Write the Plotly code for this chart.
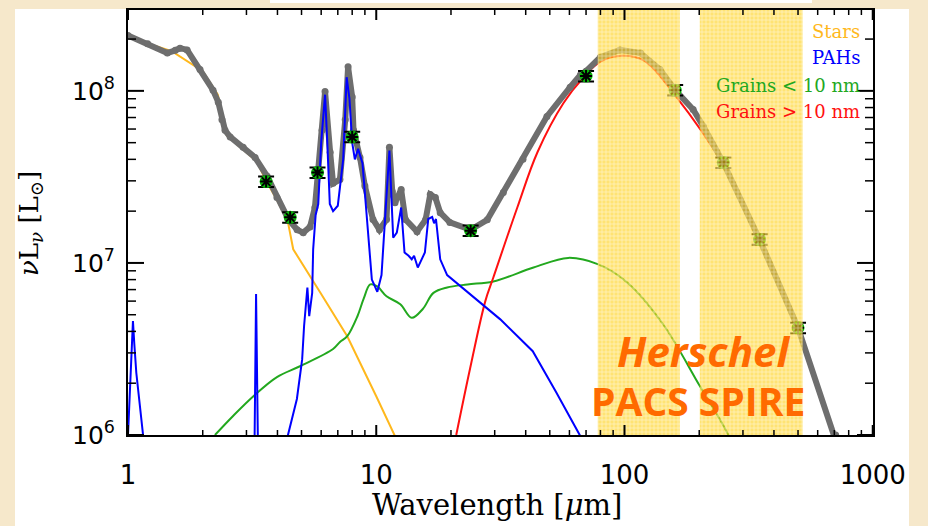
import plotly.graph_objects as go

# ---------------- data ----------------
total_wl = [1.0, 1.2, 1.44, 1.55, 1.62, 1.73, 1.95, 2.2, 2.31, 2.39, 2.46, 2.58, 2.91, 3.25, 3.63,
            3.98, 4.42, 4.8, 5.08, 5.41, 5.66, 5.84, 6.05, 6.22, 6.52, 6.7, 7.14, 7.5, 7.7, 8.0,
            8.1, 8.6, 9.0, 9.7, 10.3, 11.0, 11.3, 11.6, 11.9, 12.6, 13.1, 14.6, 15.8, 16.5, 17.3,
            18.1, 19.8, 24.0, 28.0, 32.5, 39.0, 48.7, 60.4, 66.5, 70.0, 80.0, 96.0, 116.0, 139.0,
            160.0, 189.0, 208.0, 250.0, 350.0, 500.0, 709.0, 800.0]
total_lum = [2.1e8, 1.88e8, 1.66e8, 1.72e8, 1.77e8, 1.73e8, 1.33e8, 1.01e8, 8.6e7, 6.8e7, 5.9e7, 5.4e7,
             4.7e7, 4.1e7, 3.2e7, 2.4e7, 1.8e7, 1.56e7, 1.5e7, 1.62e7, 2.1e7, 3.5e7, 5.9e7, 9.9e7,
             4.4e7, 2.9e7, 3.05e7, 6.8e7, 1.38e8, 9.2e7, 5.9e7, 4.1e7, 2.8e7, 1.79e7, 1.56e7, 1.79e7,
             4.7e7, 2.6e7, 2.24e7, 2.67e7, 1.79e7, 1.52e7, 1.78e7, 2.5e7, 2.4e7, 1.96e7, 1.72e7,
             1.56e7, 1.78e7, 2.57e7, 4.0e7, 7.1e7, 1.05e8, 1.24e8, 1.3e8, 1.57e8, 1.73e8, 1.66e8,
             1.33e8, 1.01e8, 7.8e7, 6.2e7, 3.83e7, 1.37e7, 4.2e6, 1.0e6, 5.5e5]

stars_wl = [1.0, 1.5, 2.0, 2.3, 2.5, 3.3, 3.6, 4.0, 4.4, 4.63, 6.0, 7.64, 10.0, 11.9, 13.0]
stars_lum = [2.05e8, 1.7e8, 1.3e8, 9.5e7, 5.5e7, 3.9e7, 3.0e7, 2.3e7, 1.75e7, 1.2e7, 6.6e6, 3.75e6,
             1.68e6, 1.0e6, 7.5e5]

pah_wl = [1.0, 1.035, 1.047, 1.06, 1.08, 1.15, 1.2, 3.2, 3.28, 3.38, 4.3, 4.41, 4.79, 5.03, 5.12,
          5.28, 5.37, 5.52, 5.57, 5.7, 5.84, 6.0, 6.22, 6.35, 6.5, 6.7, 7.0, 7.36, 7.6, 7.8, 8.0,
          8.2, 8.45, 8.8, 9.2, 9.6, 10.1, 10.5, 10.9, 11.3, 11.7, 12.1, 12.6, 13.0, 13.5, 13.9,
          14.2, 14.7, 15.7, 16.2, 16.8, 17.1, 17.4, 18.1, 19.3, 31.6, 42.7, 53.0, 66.0, 75.0]
pah_lum = [1.0e6, 3.6e6, 4.6e6, 3.4e6, 2.3e6, 1.0e6, 4e5, 2e5, 6.6e6, 2e5, 2e5, 1.0e6, 1.62e6,
           2.75e6, 4.3e6, 7.2e6, 4.9e6, 6.7e6, 1.2e7, 1.9e7, 2.2e7, 5e7, 9.5e7, 5e7, 2.2e7, 2.0e7,
           2.15e7, 4e7, 1.2e8, 9e7, 5e7, 4e7, 4.6e7, 3.8e7, 1.8e7, 8e6, 6.8e6, 8.5e6, 2e7, 4.5e7,
           1.4e7, 1.5e7, 2.1e7, 1.15e7, 1.1e7, 1.05e7, 1.1e7, 9.4e6, 1.15e7, 1.8e7, 1.85e7, 1.7e7,
           1.8e7, 1.05e7, 8.5e6, 4.7e6, 3.07e6, 1.78e6, 1.0e6, 6e5]

small_wl = [2.24, 2.65, 3.2, 3.98, 4.93, 6.7, 7.14, 7.64, 8.4, 8.9, 9.46, 10.1, 11.0, 12.5, 13.9,
            15.4, 17.0, 19.3, 23.3, 29.6, 43.0, 59.3, 78.5, 102.5, 143.0, 200.0, 262.0, 300.0]
small_lum = [1.0e6, 1.29e6, 1.68e6, 2.17e6, 2.51e6, 3.16e6, 3.47e6, 3.75e6, 4.9e6, 6.2e6, 7.5e6,
             7.3e6, 6.4e6, 5.75e6, 4.8e6, 5.4e6, 6.7e6, 7.2e6, 7.5e6, 7.8e6, 9.4e6, 1.07e7, 9.8e6,
             7.7e6, 4.4e6, 1.95e6, 1.0e6, 6e5]

big_wl = [21.0, 23.9, 27.5, 29.6, 37.0, 44.6, 56.8, 68.4, 80.0, 98.0, 120.0, 160.0, 250.0, 350.0,
          500.0, 700.0, 800.0]
big_lum = [1.0e6, 2.45e6, 6.0e6, 8.2e6, 2.1e7, 4.4e7, 8.5e7, 1.2e8, 1.48e8, 1.6e8, 1.5e8, 9.4e7,
           3.7e7, 1.35e7, 4.1e6, 1.0e6, 5e5]

phot_wl = [3.6, 4.5, 5.8, 8.0, 24.0, 70.0, 160.0, 250.0, 350.0, 500.0]
phot_lum = [2.97e7, 1.84e7, 3.35e7, 5.4e7, 1.54e7, 1.22e8, 1.01e8, 3.83e7, 1.37e7, 4.2e6]
phot_err = [0.07 * v for v in phot_lum]

band_names = ["PACS", "SPIRE"]
band_lo = [78.0, 201.0]
band_hi = [167.0, 522.0]

legend_labels = ["Stars", "PAHs", "Grains &lt; 10 nm", "Grains &gt; 10 nm"]
legend_colors = ["#FFB81C", "#0000FF", "#22A81E", "#FF1010"]

x_tick_vals = [1, 10, 100, 1000]
x_tick_text = ["1", "10", "100", "1000"]
y_tick_vals = [1e6, 1e7, 1e8]
y_tick_text = ["10<sup>6</sup>", "10<sup>7</sup>", "10<sup>8</sup>"]

# ---------------- figure ----------------
W, H = 928, 526
L, R, T, B = 128, 55, 10, 91
pw, ph = W - L - R, H - T - B
XR = [0, 3.001]
YR = [6, 8.47]
x_px_per_dec = pw / (XR[1] - XR[0])
y_px_per_dec = ph / (YR[1] - YR[0])


def px(xp):
    return (xp - L) / pw


def py(yp):
    return (H - B - yp) / ph


fig = go.Figure()

fig.add_trace(go.Scatter(x=stars_wl, y=stars_lum, mode="lines",
                         line=dict(color=legend_colors[0], width=2), showlegend=False))
fig.add_trace(go.Scatter(x=small_wl, y=small_lum, mode="lines", line_shape="spline",
                         line=dict(color=legend_colors[2], width=2), showlegend=False))
fig.add_trace(go.Scatter(x=big_wl, y=big_lum, mode="lines", line_shape="spline",
                         line=dict(color=legend_colors[3], width=2), showlegend=False))
fig.add_trace(go.Scatter(x=total_wl, y=total_lum, mode="lines+markers",
                         line=dict(color="#6E6E6E", width=6),
                         marker=dict(color="#6E6E6E", size=7), showlegend=False))
fig.add_trace(go.Scatter(x=pah_wl, y=pah_lum, mode="lines",
                         line=dict(color=legend_colors[1], width=2), showlegend=False))
fig.add_trace(go.Scatter(x=phot_wl, y=phot_lum, mode="markers",
                         marker=dict(color="#0BB80B", size=13, line=dict(width=0)),
                         error_y=dict(type="data", array=phot_err, color="black",
                                      thickness=2, width=8),
                         showlegend=False))
fig.add_trace(go.Scatter(x=phot_wl, y=phot_lum, mode="markers",
                         marker=dict(symbol="asterisk-open", color="black", size=10,
                                     line=dict(color="black", width=2)),
                         showlegend=False))

for lo, hi in zip(band_lo, band_hi):
    fig.add_trace(go.Scatter(
        x=[lo, hi, hi, lo, lo], y=[5e5, 5e5, 5e8, 5e8, 5e5], mode="lines",
        line=dict(width=0), fill="toself", fillcolor="rgba(255,212,30,0.62)",
        fillpattern=dict(shape="+", bgcolor="rgba(255,210,30,0.62)",
                         fgcolor="white", fgopacity=0.6,
                         size=4, solidity=0.3),
        hoverinfo="skip", showlegend=False))

minor_x = [m * d for d in (1, 10, 100) for m in range(2, 10)]
minor_y = [m * d for d in (1e6, 1e7) for m in range(2, 10)] + [2e8, 3e8]


# inside tick marks on all four sides, built from the tick value lists
def tick_segments(xvals, yvals, xlen, ylen):
    xs, ys = [], []
    ylo, yhi = 10 ** YR[0], 10 ** YR[1]
    xlo, xhi = 10 ** XR[0], 10 ** XR[1]
    dy = 10 ** (xlen / y_px_per_dec)
    dx = 10 ** (ylen / x_px_per_dec)
    for v in xvals:
        xs += [v, v, None, v, v, None]
        ys += [ylo, ylo * dy, None, yhi, yhi / dy, None]
    for v in yvals:
        xs += [xlo, xlo * dx, None, xhi, xhi / dx, None]
        ys += [v, v, None, v, v, None]
    return xs, ys


for xv, yv, xl, yl, wd in [(x_tick_vals, y_tick_vals, 10, 16, 2),
                           (minor_x, minor_y, 5, 8, 1.5)]:
    tx, ty = tick_segments(xv, yv, xl, yl)
    fig.add_trace(go.Scatter(x=tx, y=ty, mode="lines", line=dict(color="black", width=wd),
                             hoverinfo="skip", showlegend=False))

fig.update_layout(
    xaxis=dict(type="log", range=XR, showline=True, linecolor="black", linewidth=2,
               mirror=True, ticks="", tickmode="array", tickvals=x_tick_vals,
               ticktext=x_tick_text, showgrid=False, zeroline=False,
               tickfont=dict(family="DejaVu Sans", size=26, color="black"),
               ticklabelstandoff=16),
    yaxis=dict(type="log", range=YR, showline=True, linecolor="black", linewidth=2,
               mirror=True, ticks="", tickmode="array", tickvals=y_tick_vals,
               ticktext=y_tick_text, showgrid=False, zeroline=False,
               tickfont=dict(family="DejaVu Sans", size=25, color="black"),
               ticklabelstandoff=6),
)

# parchment border around the white card (paper itself is white)
BEIGE = "#F6E8CB"
border_rects = [(0, 15, 0, 526), (909, 928, 0, 526), (15, 270, 0, 9), (812, 909, 0, 9),
                (270, 812, 3, 9)]
shapes = [dict(type="rect", xref="paper", yref="paper", x0=px(a), x1=px(b), y0=py(d), y1=py(c),
               fillcolor=BEIGE, line=dict(width=0), layer="below")
          for a, b, c, d in border_rects]

annotations = []
leg_y = [32, 58, 85, 111]
for txt, col, yy in zip(legend_labels, legend_colors, leg_y):
    annotations.append(dict(xref="paper", yref="paper", x=px(862), y=py(yy), text=txt,
                            showarrow=False, xanchor="right", yanchor="middle",
                            font=dict(family="DejaVu Serif", size=18, color=col)))

annotations += [
    dict(xref="paper", yref="paper", x=px(703), y=py(350), text="<b><i>Herschel</i></b>",
         showarrow=False, xanchor="center", yanchor="middle",
         font=dict(family="Open Sans", size=42, color="#FF6A00")),
    dict(xref="paper", yref="paper", x=px(698), y=py(400), text="<b>PACS SPIRE</b>",
         showarrow=False, xanchor="center", yanchor="middle",
         font=dict(family="Open Sans", size=39, color="#FF6A00")),
    dict(xref="paper", yref="paper", x=px(497), y=py(505), text="Wavelength [<i>μ</i>m]",
         showarrow=False, xanchor="center", yanchor="middle",
         font=dict(family="DejaVu Serif", size=29, color="black")),
    dict(xref="paper", yref="paper", x=px(30), y=py(224),
         text="<i>ν</i>L<sub><i>ν</i></sub> [L<sub>⊙</sub>]", textangle=-90,
         showarrow=False, xanchor="center", yanchor="middle",
         font=dict(family="DejaVu Serif", size=26, color="black")),
]

fig.update_layout(width=W, height=H, margin=dict(l=L, r=R, t=T, b=B, autoexpand=False),
                  paper_bgcolor="white", plot_bgcolor="white",
                  shapes=shapes, annotations=annotations, showlegend=False)

fig.write_html("out.html")
